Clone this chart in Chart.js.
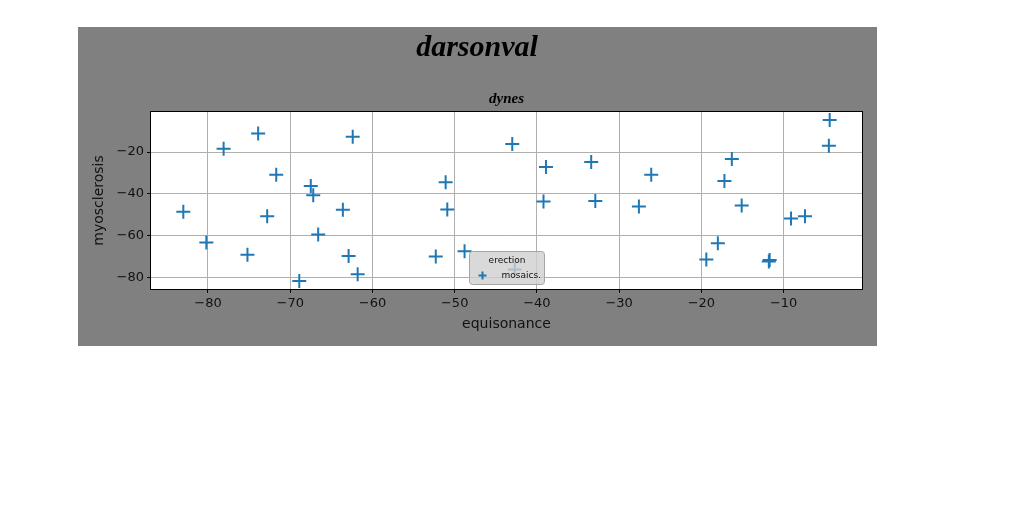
<!DOCTYPE html>
<html>
<head>
<meta charset="utf-8">
<script src="https://cdn.jsdelivr.net/npm/chart.js@4"></script>
<style>
  html, body { margin: 0; padding: 0; background: #fff; }
  body { width: 1024px; height: 512px; position: relative; overflow: hidden; }
  #fig { position: absolute; left: 78px; top: 27px; width: 799px; height: 319px; background: #808080; }
  #wrap { position: absolute; left: 14px; top: 0; width: 785px; height: 319px; }
</style>
</head>
<body>
<div id="fig"><div id="wrap"><canvas id="myChart" width="785" height="319"></canvas></div></div>
<script>
const chartTitle = 'darsonval';
const chartSubtitle = 'dynes';
const xLabel = 'equisonance';
const yLabel = 'myosclerosis';
const legendTitle = 'erection';
const seriesName = 'mosaics.';

const xTicks = [-80, -70, -60, -50, -40, -30, -20, -10];
const yTicks = [-80, -60, -40, -20];

const xValues = [-73.9, -62.4, -78.1, -71.7, -67.5, -67.2, -83.0, -63.6, -72.8, -66.6,
    -80.2, -75.2, -62.9, -61.8, -68.9, -43.0, -38.9, -33.4, -51.1, -39.2,
    -32.9, -50.9, -52.3, -48.8, -42.7, -4.4, -4.5, -16.3, -26.1, -17.2,
    -27.6, -15.1, -9.1, -7.4, -18.0, -19.4, -11.7, -11.8];
const yValues = [-11.1, -12.7, -18.4, -30.8, -36.2, -40.6, -48.5, -47.6, -50.7, -59.4,
    -63.2, -69.1, -69.7, -78.4, -81.6, -16.2, -27.1, -24.8, -34.4, -43.6,
    -43.4, -47.4, -69.9, -67.4, -76.1, -4.7, -17.0, -23.3, -30.9, -33.8,
    -46.0, -45.5, -51.8, -50.7, -63.6, -71.3, -71.6, -72.3];

const puntos = xValues.map((x, i) => ({ x, y: yValues[i] }));

// margen de 5% como matplotlib
function rango(valores) {
    const min = Math.min(...valores);
    const max = Math.max(...valores);
    const pad = (max - min) * 0.05;
    return { min: min - pad, max: max + pad };
}
const rx = rango(xValues);
const ry = rango(yValues);

const fmt = v => String(v).replace('-', '\u2212');

const fondoPlot = {
    id: 'fondoPlot',
    beforeDraw(chart) {
        const { ctx, chartArea: a } = chart;
        ctx.save();
        ctx.fillStyle = '#fff';
        ctx.fillRect(a.left, a.top, a.right - a.left, a.bottom - a.top);
        ctx.restore();
    },
    afterDatasetsDraw(chart) {
        const { ctx, chartArea: a } = chart;
        ctx.save();
        ctx.strokeStyle = '#000';
        ctx.lineWidth = 1;
        ctx.strokeRect(Math.round(a.left) - 0.5, Math.round(a.top) - 0.5,
            Math.round(a.right - a.left) + 1, Math.round(a.bottom - a.top) + 1);
        ctx.restore();
    }
};

const leyenda = {
    id: 'leyenda',
    afterDraw(chart) {
        const { ctx, chartArea: a } = chart;
        const ds = chart.data.datasets[0];
        const w = 75, h = 33;
        const x = Math.round((a.left + a.right) / 2 - w / 2) + 0.5;
        const y = Math.round(a.bottom - 5 - h) + 0.5;
        ctx.save();
        ctx.beginPath();
        ctx.roundRect(x, y, w, h, 3);
        ctx.globalAlpha = 0.8;
        ctx.fillStyle = '#cfcfcf';
        ctx.fill();
        ctx.globalAlpha = 1;
        ctx.strokeStyle = '#a6a6a6';
        ctx.lineWidth = 1;
        ctx.stroke();
        ctx.fillStyle = '#111';
        ctx.font = '9px "DejaVu Sans"';
        ctx.textBaseline = 'middle';
        ctx.textAlign = 'center';
        ctx.fillText(legendTitle, x + w / 2, y + 9);
        ctx.textAlign = 'left';
        ctx.fillText(ds.label, x + 32, y + 24);
        ctx.strokeStyle = ds.borderColor;
        ctx.lineWidth = 2;
        Chart.helpers.drawPoint(ctx, {
            pointStyle: 'cross', radius: 4, borderWidth: 2, rotation: 0
        }, x + 13, y + 24);
        ctx.restore();
    }
};

const ejeComun = {
    grid: { color: '#b0b0b0', lineWidth: 1, tickLength: 4, tickColor: '#000', drawTicks: true },
    border: { display: false },
    ticks: { color: '#111', padding: 3, font: { family: 'DejaVu Sans', size: 13 }, callback: fmt }
};

const ctx = document.querySelector('#myChart').getContext('2d');
const myChart = new Chart(ctx, {
    type: 'scatter',
    data: {
        datasets: [{
            label: seriesName,
            data: puntos,
            pointStyle: 'cross',
            pointRadius: 7,
            pointHoverRadius: 7,
            pointBorderWidth: 2,
            borderColor: '#1f77b4',
            backgroundColor: '#1f77b4'
        }]
    },
    options: {
        responsive: false,
        animation: false,
        layout: { padding: { left: 0, right: 15, top: 0, bottom: 0 } },
        scales: {
            x: {
                ...ejeComun,
                min: rx.min,
                max: rx.max,
                afterBuildTicks: s => { s.ticks = xTicks.map(v => ({ value: v })); },
                afterFit: s => { s.height = 57; },
                title: {
                    display: true, text: xLabel, color: '#111',
                    font: { family: 'DejaVu Sans', size: 14, lineHeight: 1 },
                    padding: { top: 0, bottom: 15 }
                }
            },
            y: {
                ...ejeComun,
                min: ry.min,
                max: ry.max,
                afterBuildTicks: s => { s.ticks = yTicks.map(v => ({ value: v })); },
                afterFit: s => { s.width = 59; },
                title: {
                    display: true, text: yLabel, color: '#111',
                    font: { family: 'DejaVu Sans', size: 14, lineHeight: 1 },
                    padding: { top: 0, bottom: 0 }
                }
            }
        },
        plugins: {
            legend: { display: false },
            tooltip: { enabled: false },
            title: {
                display: true,
                text: chartTitle,
                color: '#000',
                font: { family: 'Liberation Serif', size: 30, style: 'italic', weight: 'bold', lineHeight: 1 },
                padding: { top: 6, bottom: 0 }
            },
            subtitle: {
                display: true,
                text: chartSubtitle,
                color: '#000',
                fullSize: false,
                font: { family: 'Liberation Serif', size: 15, style: 'italic', weight: 'bold', lineHeight: 1 },
                padding: { top: 28.5, bottom: 5.5 }
            }
        }
    },
    plugins: [fondoPlot, leyenda]
});
</script>
</body>
</html>
